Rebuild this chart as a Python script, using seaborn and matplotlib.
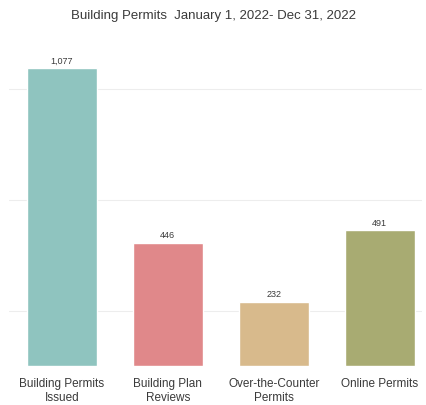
import matplotlib
matplotlib.use("Agg")
import matplotlib.pyplot as plt
import seaborn as sns
import pandas as pd

categories = ["Building Permits\nIssued", "Building Plan\nReviews", "Over-the-Counter\nPermits", "Online Permits"]
values = [1077, 446, 232, 491]
colors = ["#8fc4bf", "#e0888a", "#d8ba8c", "#a8ab72"]
title = "Building Permits  January 1, 2022- Dec 31, 2022"

sns.set_theme(style="white")
plt.rcParams['font.family'] = ['Liberation Sans', 'DejaVu Sans']

df = pd.DataFrame({"cat": categories, "val": values})

fig = plt.figure(figsize=(4.27, 4.06), dpi=100)
ax = fig.add_axes([9/427, 1 - 367/406, 413/427, (367 - 62.6)/406])
sns.barplot(data=df, x="cat", y="val", hue="cat", palette=colors, width=0.66,
            legend=False, ax=ax, saturation=1)
ax.set_xlim(-0.5, 3.4)
ax.set_ylim(0, 1100)
for g in [200, 600, 1000]:
    ax.axhline(g, color="#ededed", lw=0.8, zorder=0)
ax.set_yticks([])
ax.set_xlabel("")
ax.set_ylabel("")
for s in ax.spines.values():
    s.set_visible(False)
ax.tick_params(axis="x", length=0, pad=8, labelsize=8.5, labelcolor="#3a3a3a")
for i, v in enumerate(values):
    ax.text(i, v + 12, f"{v:,}", ha="center", va="bottom", fontsize=6.5, color="#3a3a3a")
fig.text(0.5, 1 - 16/406, title, ha="center", va="center", fontsize=9.5, color="#3a3a3a")
fig.savefig("out.png", dpi=100)
